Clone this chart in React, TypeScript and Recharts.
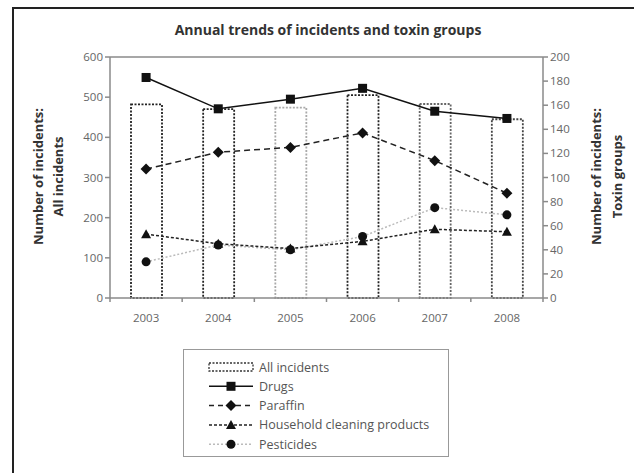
import { ComposedChart, Bar, Line, XAxis, YAxis, ReferenceLine, Cell, Label } from "recharts";

const years = ["2003", "2004", "2005", "2006", "2007", "2008"];
const allIncidents = [482, 470, 474, 505, 483, 445];
const drugs = [183, 157, 165, 174, 155, 149];
const paraffin = [107, 121, 125, 137, 114, 87];
const household = [53, 45, 41, 47, 57, 55];
const pesticides = [30, 44, 40, 51, 75, 69];

const leftTicks = [0, 100, 200, 300, 400, 500, 600];
const rightTicks = [0, 20, 40, 60, 80, 100, 120, 140, 160, 180, 200];

// dotted outline colour of each year's bar (some are printed lighter)
const barStrokes = ["#222", "#222", "#aaa", "#222", "#666", "#444"];

const data = years.map((year, i) => ({
  year,
  all: allIncidents[i],
  drugs: drugs[i],
  paraffin: paraffin[i],
  household: household[i],
  pesticides: pesticides[i],
}));

const FONT = "'Open Sans', sans-serif";
const AXIS = "#8a8a8a";
const TICK_TEXT = { fill: "#666", fontSize: 11.5, fontFamily: FONT };

const squareDot = (p: any) => (
  <rect key={`sq-${p.index}`} x={p.cx - 4.5} y={p.cy - 4.5} width={9} height={9} fill="#111" />
);
const diamondDot = (p: any) => (
  <polygon
    key={`dm-${p.index}`}
    points={`${p.cx},${p.cy - 5.5} ${p.cx + 5.5},${p.cy} ${p.cx},${p.cy + 5.5} ${p.cx - 5.5},${p.cy}`}
    fill="#111"
  />
);
const triangleDot = (p: any) => (
  <polygon
    key={`tr-${p.index}`}
    points={`${p.cx},${p.cy - 5} ${p.cx + 5},${p.cy + 4} ${p.cx - 5},${p.cy + 4}`}
    fill="#111"
  />
);
const circleDot = (p: any) => <circle key={`ci-${p.index}`} cx={p.cx} cy={p.cy} r={4.5} fill="#111" />;

// category ticks: label in the middle, tick marks on the band edges
const YearTick = (props: any) => {
  const { x, y, payload, index, visibleTicksCount } = props;
  const off = payload.offset ?? 36;
  const axisY = y - 8;
  return (
    <g>
      <line x1={x - off} x2={x - off} y1={axisY} y2={axisY + 4} stroke={AXIS} strokeWidth={1.5} />
      {index === visibleTicksCount - 1 && (
        <line x1={x + off} x2={x + off} y1={axisY} y2={axisY + 4} stroke={AXIS} strokeWidth={1.5} />
      )}
      <text x={x} y={y + 16} textAnchor="middle" {...TICK_TEXT}>
        {payload.value}
      </text>
    </g>
  );
};

const axisTitle = (x1: number, x2: number, lines: string[]) => (props: any) => {
  const vb = props.viewBox;
  const cy = vb.y + vb.height / 2 - 1;
  return (
    <g>
      {[x1, x2].map((x, i) => (
        <text
          key={i}
          x={x}
          y={cy}
          transform={`rotate(-90, ${x}, ${cy})`}
          textAnchor="middle"
          dominantBaseline="central"
          fontSize={13}
          fontWeight="bold"
          fontFamily={FONT}
          fill="#333"
        >
          {lines[i]}
        </text>
      ))}
    </g>
  );
};

const legendItems = [
  { name: "All incidents", kind: "bar" },
  { name: "Drugs", kind: "square", dash: undefined, color: "#111" },
  { name: "Paraffin", kind: "diamond", dash: "5 4", color: "#222" },
  { name: "Household cleaning products", kind: "triangle", dash: "3 2", color: "#222" },
  { name: "Pesticides", kind: "circle", dash: "2 2", color: "#bbb" },
];

const LegendBox = () => (
  <svg
    width={266}
    height={108}
    style={{ position: "absolute", left: 183, top: 349, border: "1.5px solid #999", boxSizing: "border-box" }}
  >
    {legendItems.map((it, i) => {
      const cy = 17 + i * 19.3;
      const cx = 47;
      let icon;
      if (it.kind === "bar") {
        icon = (
          <rect x={25} y={cy - 4} width={44} height={8} fill="none" stroke="#333" strokeWidth={1.3} strokeDasharray="2 1.5" />
        );
      } else {
        const marker =
          it.kind === "square" ? squareDot({ cx, cy, index: i })
          : it.kind === "diamond" ? diamondDot({ cx, cy, index: i })
          : it.kind === "triangle" ? triangleDot({ cx, cy, index: i })
          : circleDot({ cx, cy, index: i });
        icon = (
          <g>
            <line x1={25} x2={69} y1={cy} y2={cy} stroke={it.color} strokeWidth={1.5} strokeDasharray={it.dash} />
            {marker}
          </g>
        );
      }
      return (
        <g key={it.name}>
          {icon}
          <text x={75} y={cy} dominantBaseline="central" fontSize={12.5} fontFamily={FONT} fill="#555">
            {it.name}
          </text>
        </g>
      );
    })}
  </svg>
);

export default function App() {
  return (
    <div style={{ position: "absolute", left: 0, top: 0, width: 634, height: 473, background: "#fff" }}>
      <div
        style={{
          position: "absolute",
          left: 12,
          top: 7,
          width: 622,
          height: 466,
          borderTop: "2px solid #222",
          borderLeft: "2px solid #222",
          boxSizing: "border-box",
        }}
      />
      <div
        style={{
          position: "absolute",
          left: 0,
          width: 656,
          top: 20,
          textAlign: "center",
          fontFamily: FONT,
          fontWeight: "bold",
          fontSize: 14,
          color: "#333",
        }}
      >
        Annual trends of incidents and toxin groups
      </div>
      <div style={{ position: "absolute", left: 0, top: 0 }}>
        <ComposedChart width={634} height={473} data={data} margin={{ top: 57, right: 31, left: 50, bottom: 145 }}>
          <XAxis
            dataKey="year"
            stroke={AXIS}
            strokeWidth={1.5}
            tickLine={false}
            tickSize={0}
            tickMargin={8}
            tick={<YearTick />}
            height={30}
            interval={0}
          />
          <YAxis
            yAxisId="left"
            domain={[0, 600]}
            ticks={leftTicks}
            width={60}
            stroke={AXIS}
            strokeWidth={1.5}
            tickSize={5}
            tick={TICK_TEXT}
          >
            <Label content={axisTitle(38, 58, ["Number of incidents:", "All incidents"])} />
          </YAxis>
          <YAxis
            yAxisId="right"
            orientation="right"
            domain={[0, 200]}
            ticks={rightTicks}
            width={60}
            stroke={AXIS}
            strokeWidth={1.5}
            tickSize={5}
            tick={TICK_TEXT}
          >
            <Label content={axisTitle(596, 617, ["Number of incidents:", "Toxin groups"])} />
          </YAxis>
          <ReferenceLine yAxisId="left" y={600} stroke={AXIS} strokeWidth={1.5} />
          <Bar
            yAxisId="left"
            dataKey="all"
            barSize={31}
            fill="none"
            strokeWidth={1.8}
            strokeDasharray="2 1.5"
            isAnimationActive={false}
          >
            {years.map((y, i) => (
              <Cell key={y} stroke={barStrokes[i]} fill="none" />
            ))}
          </Bar>
          <Line
            yAxisId="right"
            dataKey="pesticides"
            stroke="#bbb"
            strokeWidth={1.5}
            strokeDasharray="2 2"
            dot={circleDot}
            isAnimationActive={false}
          />
          <Line
            yAxisId="right"
            dataKey="household"
            stroke="#222"
            strokeWidth={1.5}
            strokeDasharray="3 2"
            dot={triangleDot}
            isAnimationActive={false}
          />
          <Line
            yAxisId="right"
            dataKey="paraffin"
            stroke="#222"
            strokeWidth={1.5}
            strokeDasharray="6 4"
            dot={diamondDot}
            isAnimationActive={false}
          />
          <Line
            yAxisId="right"
            dataKey="drugs"
            stroke="#111"
            strokeWidth={1.5}
            dot={squareDot}
            isAnimationActive={false}
          />
        </ComposedChart>
      </div>
      <LegendBox />
    </div>
  );
}
